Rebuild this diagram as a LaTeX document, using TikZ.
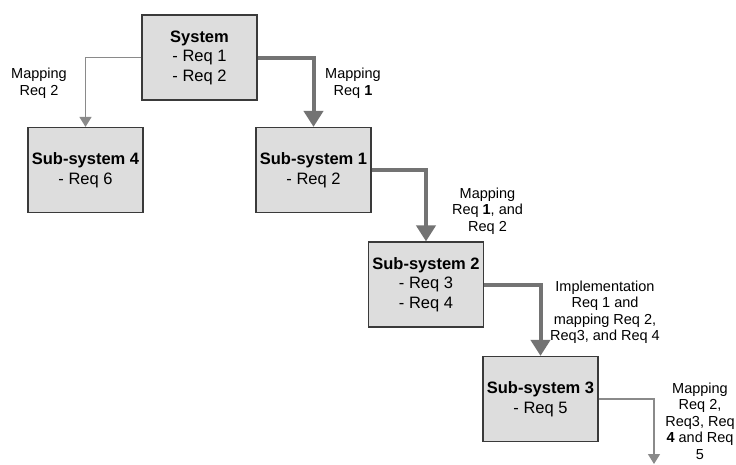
\documentclass[tikz,border=0pt]{standalone}
\usepackage{fontspec}
\setmainfont{Liberation Sans}
\usetikzlibrary{arrows.meta}
\definecolor{boxfill}{HTML}{DDDDDD}
\definecolor{boxline}{HTML}{3A3A3A}
\definecolor{flowthick}{HTML}{737373}
\definecolor{flowthin}{HTML}{8A8A8A}
\tikzset{
  reqbox/.style={draw=boxline, line width=1.2pt, fill=boxfill, minimum width=115pt,
    minimum height=85pt, inner sep=0pt, align=center,
    font=\fontsize{16.5}{19.5}\selectfont},
  flowlabel/.style={align=center, inner sep=0pt, font=\fontsize{14.5}{16.5}\selectfont},
  majorflow/.style={draw=flowthick, line width=4pt,
    -{Triangle[width=19pt,length=16pt]}},
  minorflow/.style={draw=flowthin, line width=1.5pt,
    -{Triangle[width=12pt,length=10pt]}}
}
\begin{document}
\begin{tikzpicture}[x=1pt,y=-1pt]
\useasboundingbox (0,0) rectangle (736,464);
\node[reqbox] (sys)  at (199.5,57.5) {\textbf{System}\\- Req 1\\- Req 2};
\node[reqbox] (sub4) at (85.5,170)   {\textbf{Sub-system 4}\\- Req 6};
\node[reqbox] (sub1) at (313.5,170)  {\textbf{Sub-system 1}\\- Req 2};
\node[reqbox] (sub2) at (426,284.5)  {\textbf{Sub-system 2}\\- Req 3\\- Req 4};
\node[reqbox] (sub3) at (540.5,399)  {\textbf{Sub-system 3}\\- Req 5};
\coordinate (out) at (654,464);

\draw[minorflow] (sys.west) -| (sub4.north);
\draw[majorflow] (sys.east) -| (sub1.north);
\draw[majorflow] (sub1.east) -| (sub2.north);
\draw[majorflow] (sub2.east) -| (sub3.north);
\draw[minorflow] (sub3.east) -| (out);

\node[flowlabel] (l4) at (39,83)    {Mapping\\Req 2};
\node[flowlabel] (l1) at (353,83)   {Mapping\\Req \textbf{1}};
\node[flowlabel] (l2) at (487.5,211) {Mapping\\Req \textbf{1}, and\\Req 2};
\node[flowlabel] (l3) at (605,312)  {Implementation\\Req 1 and\\mapping Req 2,\\Req3, and Req 4};
\node[flowlabel] (l5) at (700,421)  {Mapping\\Req 2,\\Req3, Req\\\textbf{4} and Req\\5};
\end{tikzpicture}
\end{document}
